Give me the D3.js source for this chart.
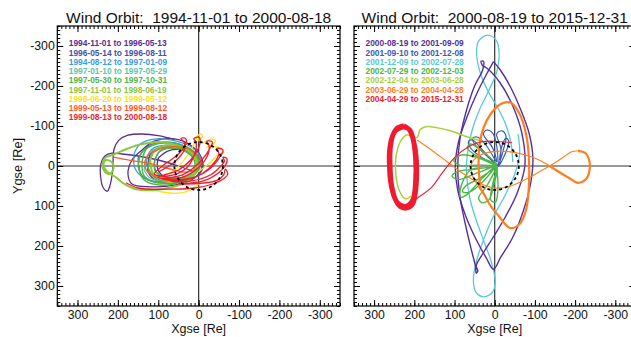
<!DOCTYPE html>
<html>
<head>
<meta charset="utf-8">
<script src="https://cdn.jsdelivr.net/npm/d3@7"></script>
<style>
  body { margin: 0; background: #fff; }
  svg { display: block; font-family: "Liberation Sans", Arial, Helvetica, sans-serif; }
</style>
</head>
<body>
<div id="chart"></div>
<script>
// ---- data (Re, GSE) ----
var xTicks = [300, 200, 100, 0, -100, -200, -300];
var yTicks = [-300, -200, -100, 0, 100, 200, 300];
var moonRadius = 60;

var leftTitle = "Wind Orbit:  1994-11-01 to 2000-08-18";
var rightTitle = "Wind Orbit:  2000-08-19 to 2015-12-31";

var leftLegend = ["1994-11-01 to 1996-05-13", "1996-05-14 to 1996-08-11", "1994-08-12 to 1997-01-09",
  "1997-01-10 to 1997-05-29", "1997-05-30 to 1997-10-31", "1997-11-01 to 1998-06-19",
  "1998-06-20 to 1999-05-12", "1999-05-13 to 1999-08-12", "1999-08-13 to 2000-08-18"];
var rightLegend = ["2000-08-19 to 2001-09-09", "2001-09-10 to 2001-12-08", "2001-12-09 to 2002-07-28",
  "2002-07-29 to 2002-12-03", "2002-12-04 to 2003-06-28", "2003-06-29 to 2004-04-28",
  "2004-04-29 to 2015-12-31"];

// left panel orbit segments, one list per legend entry
var orbit1 = [
  [[60,-66],[100,-76],[140,-80],[175,-77],[198,-64],[210,-40],[212,-10],[214,20],[220,50],[226,63],[236,55],[243,25],[242,-5],[232,-25],[215,-32],[190,-30],[150,-25],[100,-15],[50,0],[10,15]],
  [[140,-40],[110,-62],[60,-68],[20,-52],[-5,-25],[-10,5],[10,30],[60,48],[120,52],[165,45],[175,20],[165,-15],[140,-40]],
  [[120,-30],[90,-48],[50,-50],[15,-35],[0,-10],[10,20],[50,38],[100,38],[125,15],[120,-30]],
  [[100,-20],[75,-38],[40,-40],[12,-25],[2,0],[15,22],[50,30],[88,25],[102,5],[100,-20]]
];
var orbit2 = [
  [[150,-20],[125,-50],[80,-60],[35,-50],[5,-28],[-8,0],[5,25],[45,40],[100,42],[140,25],[150,-20]],
  [[110,-10],[95,-38],[60,-45],[25,-35],[5,-12],[8,12],[35,28],[80,30],[105,15],[110,-10]]
];
var orbit3 = [
  [[160,-30],[145,-55],[105,-68],[55,-62],[15,-45],[-5,-20],[0,10],[30,30],[85,40],[135,30],[158,5],[160,-30]],
  [[130,-5],[118,-40],[80,-52],[40,-45],[10,-25],[2,5],[25,25],[70,32],[115,20],[130,-5]]
];
var orbit4 = [
  [[135,10],[125,-30],[90,-48],[45,-45],[12,-25],[2,5],[25,28],[75,38],[120,30],[135,10]]
];
var orbit5 = [
  [[140,-10],[130,-42],[95,-58],[50,-55],[15,-38],[0,-10],[10,20],[50,40],[100,42],[135,25],[140,-10]],
  [[125,5],[115,-30],[80,-48],[40,-45],[10,-25],[2,5],[25,30],[70,38],[110,28],[125,5]],
  [[110,-5],[98,-35],[65,-45],[30,-35],[10,-12],[15,15],[45,30],[85,28],[108,12],[110,-5]],
  [[150,0],[140,-35],[105,-55],[60,-55],[20,-40],[0,-15],[5,15],[40,38],[90,48],[135,35],[150,0]]
];
var orbit6 = [
  [[50,-50],[90,-60],[140,-55],[180,-42],[212,-28],[230,-22],[238,-8],[234,12],[222,20],[212,10],[214,-8],[228,-15],[236,-5],[226,15],[205,28],[187,43],[155,58],[105,60],[63,52],[30,40],[8,15],[5,-15],[25,-38],[50,-50]],
  [[120,-15],[105,-42],[70,-52],[30,-42],[8,-18],[8,12],[35,32],[80,36],[112,20],[120,-15]]
];
var orbit7 = [
  [[100,30],[60,10],[25,-30],[8,-62],[3,-75],[-5,-80],[-10,-72],[0,-68],[-5,-58],[-20,-62],[-32,-68],[-42,-62],[-35,-55],[-20,-48],[-45,-48],[-58,-42],[-62,-32],[-50,-30],[-30,-10],[10,20],[60,40],[110,45]],
  [[130,55],[90,65],[50,68],[20,60],[0,45]]
];
var orbit8 = [
  [[211,-22],[170,-14],[120,-6],[80,5],[40,15],[10,10],[-5,-10],[10,-35],[50,-48],[100,-42],[130,-20],[130,10],[100,30],[50,35]]
];
var orbit9 = [
  [[100,15],[60,-10],[35,-42],[36,-60],[44,-68],[34,-70],[30,-60],[50,-30],[90,0],[110,20],[75,25],[30,5],[10,-30],[6,-58],[12,-68],[0,-72],[-4,-62],[12,-25],[50,10],[100,28],[55,32],[10,12],[-20,-22],[-26,-50],[-20,-62],[-34,-60],[-30,-48],[-5,-12],[40,22],[90,32],[40,36],[-10,18],[-40,-10],[-50,-32],[-45,-44],[-60,-40],[-56,-28],[-30,5],[10,28],[70,38],[20,38],[-30,22],[-55,0],[-64,-12],[-60,-22],[-70,-18],[-68,-5],[-52,15],[-10,38],[50,45],[0,44],[-45,36],[-62,22],[-66,8],[-72,20],[-62,32],[-35,45],[10,55],[80,58],[150,55],[180,42]]
];

// right panel orbit segments
var orbitA = [
  [[3,-261],[20,-230],[45,-180],[70,-120],[90,-60],[98,0],[92,60],[74,120],[48,180],[22,228],[3,258],[-15,228],[-45,178],[-72,110],[-90,40],[-95,-20],[-86,-80],[-65,-140],[-38,-200],[-14,-240],[3,-261]],
  [[30,-250],[34,-262],[28,-262],[30,-240],[50,-200],[70,-140],[86,-70],[92,0],[86,80],[72,150],[58,210],[48,250],[46,268],[42,262],[46,250],[30,220],[5,180],[-25,130],[-55,70],[-75,0],[-68,-80],[-45,-150],[-12,-210],[20,-245],[30,-250]]
];
var orbitB = [
  [[-10,0],[25,-30],[50,-55],[55,-70],[42,-72],[20,-50],[-5,-10],[5,-45],[28,-80],[20,-90],[5,-82],[-5,-50],[-10,0],[-15,-45],[-5,-80],[-18,-88],[-28,-75],[-20,-35],[-10,0],[-28,-35],[-35,-62],[-28,-70],[-18,-50],[-12,-15]],
  [[-10,0],[30,-20],[60,-45],[65,-62],[55,-65],[35,-45],[0,-5]]
];
var orbitC = [
  [[-45,-10],[-40,-60],[-25,-110],[-5,-150],[16,-186],[35,-230],[45,-280],[40,-312],[18,-327],[-4,-314],[-11,-282],[-5,-235],[16,-186],[38,-140],[56,-90],[68,-30],[70,20],[62,80],[46,135],[28,185],[10,235],[-1,285],[5,315],[27,327],[47,315],[53,285],[46,240],[28,185],[5,130],[-25,75],[-50,20],[-62,-30],[-58,-80]]
];
var orbitD = [
  [[-5,0],[40,-20],[80,-28],[102,-15],[88,-2],[40,-2],[-5,0],[50,8],[92,14],[106,25],[92,34],[45,18],[-5,0],[40,32],[72,50],[80,64],[64,66],[30,40],[-5,0],[20,50],[40,80],[32,92],[14,84],[2,45],[-5,0],[45,-25],[68,-45],[60,-55],[35,-40],[-5,0],[60,10],[86,60],[84,78],[70,72],[30,30],[-5,0],[5,45],[10,85],[-2,90],[-8,60],[-5,0]]
];
var orbitE = [
  [[28,-61],[69,-73],[110,-88],[150,-97],[172,-98],[186,-90],[192,-72],[200,-70],[218,-78],[235,-60],[246,-20],[246,20],[238,60],[222,82],[208,75]]
];
var orbitF = [
  [[193,-65],[160,-42],[120,-12],[80,18],[40,42],[0,55],[-40,50],[-80,32],[-110,15],[-137,0],[-165,-18],[-190,-35],[-207,-38]],
  [[-137,0],[-110,-15],[-75,-28],[-35,-36],[5,-36],[40,-25],[58,-5],[55,25],[40,50]]
];
var orbitFthick = [
  [[-207,-38],[-226,-32],[-236,-10],[-236,10],[-228,32],[-207,42],[-185,30],[-160,15],[-137,0]],
  [[40,50],[28,68],[10,100],[-10,125],[-38,155],[-62,145],[-78,110],[-85,50],[-85,-20],[-78,-80],[-62,-130],[-40,-158],[-15,-155],[10,-130],[28,-95],[38,-50],[40,0],[35,60]]
];
var orbitG = [
  [[-43,-58],[0,-62],[36,-60],[65,-48],[98,-23],[131,18],[156,52],[193,81],[205,90]]
];
var orbitGhalo = [
  [[226,-102],[244,-95],[257,-70],[263,-35],[263,0],[260,40],[250,80],[235,103],[218,106],[203,95],[196,65],[193,25],[194,-20],[200,-60],[210,-90],[226,-102]],
  [[226,-97],[248,-85],[258,-50],[259,0],[255,50],[242,90],[222,100],[205,85],[198,40],[198,-20],[205,-70],[215,-92],[226,-97]]
];

// ---- styles ----
var leftColors = ["#5a2d8f", "#3f52a8", "#3d9ae0", "#5cc6ac", "#4cb848", "#8dc63f", "#ffe11a", "#ff5b2b", "#ee1c2e"];
var rightColors = ["#55309a", "#3b5cb0", "#5cc8d6", "#4cb848", "#a8d13c", "#ff7f1e", "#ee1c2e"];

var W = 631, H = 337;
var plotTop = 26, plotBottom = 306;

var svg = d3.select("#chart").append("svg")
  .attr("width", W).attr("height", H);

var line = d3.line().curve(d3.curveCatmullRom.alpha(0.5));

function panel(id, left, right, title, legend, colors, layers, yLabels) {
  var x = d3.scaleLinear().domain([350, -350]).range([left, right]);
  var y = d3.scaleLinear().domain([-350, 350]).range([plotTop, plotBottom]);
  var g = svg.append("g");

  g.append("clipPath").attr("id", id)
    .append("rect").attr("x", left).attr("y", plotTop)
    .attr("width", right - left).attr("height", plotBottom - plotTop);

  var plot = g.append("g").attr("clip-path", "url(#" + id + ")");

  // zero lines
  plot.append("line").attr("x1", x(0)).attr("x2", x(0)).attr("y1", plotTop).attr("y2", plotBottom)
    .attr("stroke", "#333").attr("stroke-width", 1.2);
  plot.append("line").attr("x1", left).attr("x2", right).attr("y1", y(0)).attr("y2", y(0))
    .attr("stroke", "#333").attr("stroke-width", 1.2);

  layers.forEach(function (L) {
    L.paths.forEach(function (p) {
      plot.append("path")
        .attr("d", line(p.map(function (d) { return [x(d[0]), y(d[1])]; })))
        .attr("fill", "none")
        .attr("stroke", colors[L.c])
        .attr("stroke-width", L.w)
        .attr("stroke-linejoin", "round");
    });
  });

  // moon orbit
  plot.append("ellipse")
    .attr("cx", x(0)).attr("cy", y(0))
    .attr("rx", Math.abs(x(moonRadius) - x(0))).attr("ry", y(moonRadius) - y(0))
    .attr("fill", "none").attr("stroke", "#000")
    .attr("stroke-width", 1.8).attr("stroke-dasharray", "3,3");

  // axes with inward ticks on all sides
  var minor = d3.range(-350, 351, 10);
  function ax(axis, tx, ty, size, vals, labels) {
    var a = g.append("g").attr("transform", "translate(" + tx + "," + ty + ")")
      .call(axis.tickValues(vals).tickSize(size).tickPadding(labels ? 4.5 : 0)
        .tickFormat(labels ? function (d) { return String(d); } : ""));
    a.select(".domain").remove();
    a.selectAll("line").attr("stroke", "#000");
    a.selectAll("text").attr("font-size", 12.3).attr("fill", "#111").attr("font-family", null);
    return a;
  }
  ax(d3.axisBottom(x), 0, plotBottom, -3, minor, false);
  ax(d3.axisBottom(x), 0, plotBottom, -6, xTicks, true);
  ax(d3.axisTop(x), 0, plotTop, -3, minor, false);
  ax(d3.axisTop(x), 0, plotTop, -6, xTicks, false);
  ax(d3.axisRight(y), right, 0, -3, minor, false);
  ax(d3.axisRight(y), right, 0, -6, yTicks, false);
  ax(d3.axisLeft(y), left, 0, -3, minor, false);
  var ly = ax(d3.axisLeft(y), left, 0, -6, yTicks, yLabels);
  if (yLabels) ly.selectAll("text").attr("x", -2.5);

  g.append("rect").attr("x", left).attr("y", plotTop)
    .attr("width", right - left).attr("height", plotBottom - plotTop)
    .attr("fill", "none").attr("stroke", "#000").attr("stroke-width", 1.2);

  g.append("text").attr("x", (left + right) / 2).attr("y", 22.5)
    .attr("text-anchor", "middle").attr("font-size", 15.5).attr("fill", "#111")
    .style("white-space", "pre").text(title);

  g.append("text").attr("x", x(0)).attr("y", 333)
    .attr("text-anchor", "middle").attr("font-size", 12.5).attr("fill", "#111")
    .text("Xgse [Re]");

  g.selectAll(".leg").data(legend).enter().append("text")
    .attr("x", left + 11.5)
    .attr("y", function (d, i) { return 46.3 + i * 9.25; })
    .attr("font-size", 8.4).attr("font-weight", "bold")
    .attr("fill", function (d, i) { return colors[i]; })
    .text(function (d) { return d; });
}

panel("clipL", 57.3, 340, leftTitle, leftLegend, leftColors, [
  { c: 0, w: 1.3, paths: orbit1 },
  { c: 1, w: 1.2, paths: orbit2 },
  { c: 2, w: 1.2, paths: orbit3 },
  { c: 3, w: 1.2, paths: orbit4 },
  { c: 6, w: 1.3, paths: orbit7 },
  { c: 4, w: 1.5, paths: orbit5 },
  { c: 5, w: 2, paths: orbit6 },
  { c: 7, w: 1.3, paths: orbit8 },
  { c: 8, w: 1.3, paths: orbit9 }
], true);

panel("clipR", 354, 635.4, rightTitle, rightLegend, rightColors, [
  { c: 2, w: 1.3, paths: orbitC },
  { c: 0, w: 1.4, paths: orbitA },
  { c: 1, w: 1.2, paths: orbitB },
  { c: 3, w: 1.4, paths: orbitD },
  { c: 4, w: 1.5, paths: orbitE },
  { c: 5, w: 1.1, paths: orbitF },
  { c: 5, w: 2.2, paths: orbitFthick },
  { c: 6, w: 1.1, paths: orbitG },
  { c: 6, w: 4, paths: orbitGhalo }
], false);

svg.append("text")
  .attr("transform", "translate(22,166) rotate(-90)")
  .attr("text-anchor", "middle").attr("font-size", 12.8).attr("fill", "#111")
  .text("Ygse [Re]");
</script>
</body>
</html>
